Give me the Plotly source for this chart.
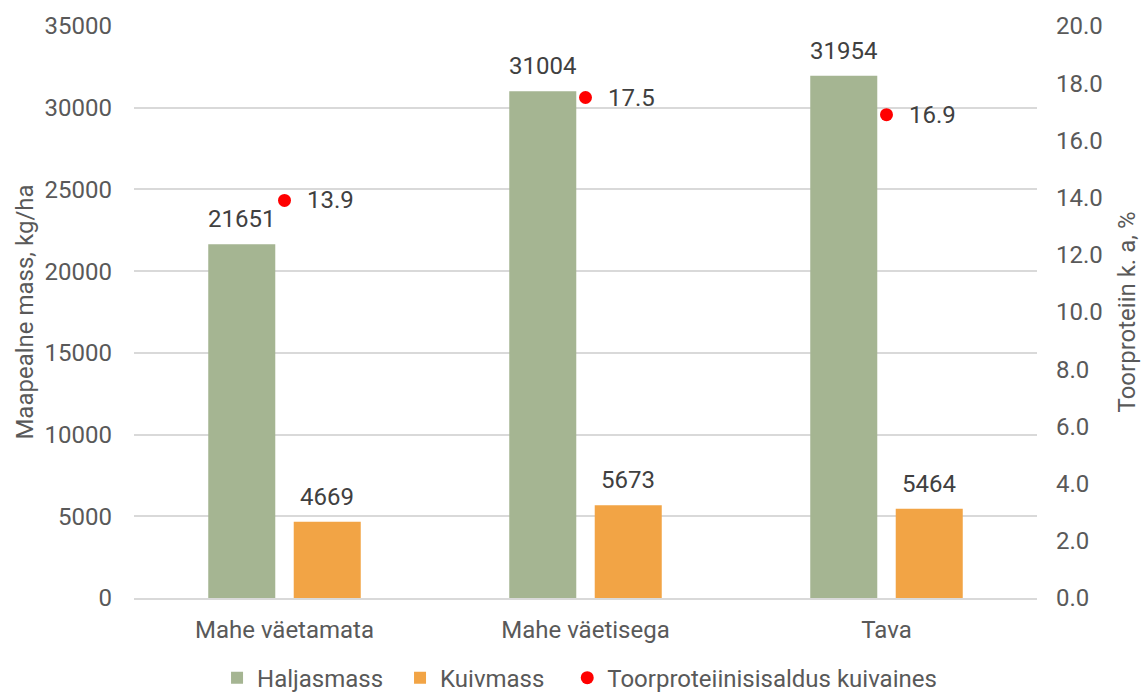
import plotly.graph_objects as go

categories = ["Mahe väetamata", "Mahe väetisega", "Tava"]
haljasmass = [21651, 31004, 31954]
kuivmass = [4669, 5673, 5464]
toorproteiin = [13.9, 17.5, 16.9]

GREEN = "#A5B592"
ORANGE = "#F2A445"
RED = "#FF0000"
TXT = "#595959"
LBL = "#404040"
FONT = "Roboto"
FS = 24
NB = "\u00a0"

fig = go.Figure()
fig.add_trace(go.Bar(x=categories, y=haljasmass, name="Haljasmass" + NB * 2,
                     marker=dict(color=GREEN, line=dict(width=0))))
fig.add_trace(go.Bar(x=categories, y=kuivmass, name="Kuivmass" + NB * 3,
                     marker=dict(color=ORANGE, line=dict(width=0))))
fig.add_trace(go.Scatter(x=categories, y=toorproteiin, name="Toorproteiinisisaldus kuivaines",
                         mode="markers", yaxis="y2",
                         marker=dict(color=RED, size=13)))

ann = []
for c, v in zip(categories, haljasmass):
    ann.append(dict(x=c, y=v, xref="x", yref="y", text=str(v), showarrow=False,
                    xshift=-42.75, yanchor="bottom", yshift=9,
                    font=dict(family=FONT, size=FS, color=LBL)))
for c, v in zip(categories, kuivmass):
    ann.append(dict(x=c, y=v, xref="x", yref="y", text=str(v), showarrow=False,
                    xshift=42.75, yanchor="bottom", yshift=9,
                    font=dict(family=FONT, size=FS, color=LBL)))
for c, v in zip(categories, toorproteiin):
    ann.append(dict(x=c, y=v, xref="x", yref="y2", text=f"{v:.1f}", showarrow=False,
                    xanchor="left", xshift=20,
                    font=dict(family=FONT, size=FS, color=LBL)))

fig.update_layout(
    width=1148, height=693,
    margin=dict(l=134, r=111, t=26, b=95),
    paper_bgcolor="white", plot_bgcolor="white",
    font=dict(family=FONT, size=FS, color=TXT),
    barmode="group", bargap=0.432, bargroupgap=0.216,
    showlegend=True,
    legend=dict(orientation="h", x=0.4934, xanchor="center", xref="paper",
                y=0.0216, yanchor="middle", yref="container",
                font=dict(family=FONT, size=FS, color=TXT), traceorder="normal"),
    xaxis=dict(showgrid=False, showline=True, linecolor="#D9D9D9", linewidth=1.5,
               ticks="", tickfont=dict(family=FONT, size=FS, color=TXT),
               ticklabelstandoff=9, automargin=False),
    yaxis=dict(range=[0, 35000], dtick=5000, showgrid=True, gridcolor="#D9D9D9",
               gridwidth=1.5, zeroline=False, ticks="", tickformat="d",
               ticklabelstandoff=21, automargin=False,
               title=dict(text="Maapealne mass, kg/ha", font=dict(family=FONT, size=FS, color=TXT),
                          standoff=4)),
    yaxis2=dict(range=[0, 20], dtick=2, overlaying="y", side="right", showgrid=False,
                zeroline=False, ticks="", tickformat=".1f", ticklabelstandoff=18,
                automargin=False,
                title=dict(text="Toorproteiin k. a, %", font=dict(family=FONT, size=FS, color=TXT),
                           standoff=16)),
    annotations=ann,
)

fig.write_html("out.html", config={"displayModeBar": False},
               post_script="document.body.style.margin='0';document.body.style.padding='0';")
